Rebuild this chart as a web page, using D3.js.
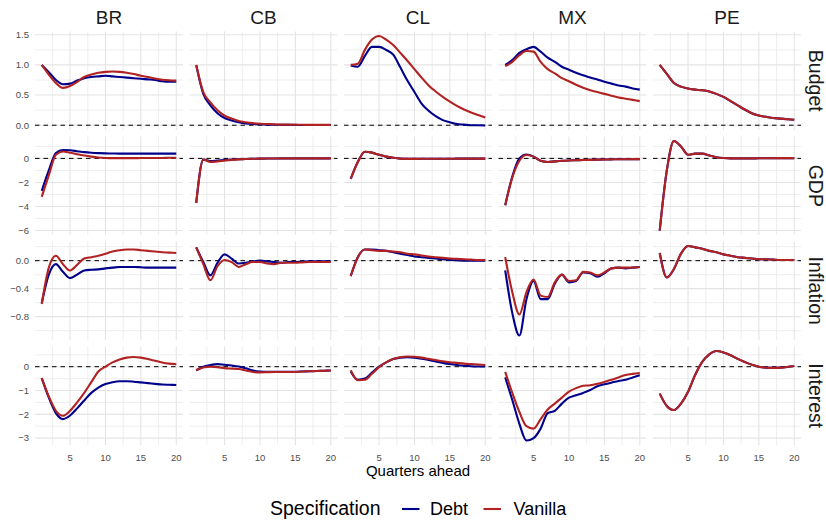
<!DOCTYPE html>
<html lang="en">
<head>
    <meta charset="UTF-8">
    <title>Impulse responses by country</title>
    <script src="https://cdn.jsdelivr.net/npm/d3@7"></script>
    <style>
        body { margin: 0; background: #fff; }
        text { font-family: "Liberation Sans", Arial, sans-serif; }
    </style>
</head>
<body>
<script>

var w = 826, h = 522;

var quarters = d3.range(1, 21);
var countries = ["BR", "CB", "CL", "MX", "PE"];
var variables = ["Budget", "GDP", "Inflation", "Interest"];
var specs = ["Debt", "Vanilla"];
var specColors = ["#00008B", "#B22222"];

var xTicks = [5, 10, 15, 20];
var yTicks = [[0, 0.5, 1, 1.5], [-6, -4, -2, 0], [-0.8, -0.4, 0], [-3, -2, -1, 0]];
var yTickLabels = [["0.0", "0.5", "1.0", "1.5"], ["\u22126", "\u22124", "\u22122", "0"],
                   ["\u22120.8", "\u22120.4", "0.0"], ["\u22123", "\u22122", "\u22121", "0"]];

// rows: BR, CB, CL, MX, PE
var budgetDebt = [
    [1.0, 0.88, 0.75, 0.68, 0.69, 0.74, 0.78, 0.80, 0.81, 0.82, 0.81, 0.80, 0.79, 0.78, 0.77, 0.76, 0.75, 0.73, 0.72, 0.72],
    [1.0, 0.52, 0.33, 0.20, 0.12, 0.08, 0.05, 0.03, 0.02, 0.015, 0.01, 0.008, 0.006, 0.005, 0.005, 0.004, 0.004, 0.003, 0.003, 0.003],
    [0.99, 0.97, 1.15, 1.30, 1.30, 1.25, 1.17, 0.96, 0.74, 0.55, 0.36, 0.24, 0.15, 0.085, 0.05, 0.02, 0.01, 0.0, 0.0, -0.005],
    [1.0, 1.08, 1.20, 1.26, 1.30, 1.22, 1.12, 1.05, 0.97, 0.92, 0.87, 0.83, 0.79, 0.76, 0.72, 0.69, 0.66, 0.64, 0.61, 0.59],
    [1.0, 0.85, 0.70, 0.64, 0.61, 0.59, 0.58, 0.56, 0.52, 0.47, 0.40, 0.33, 0.26, 0.20, 0.16, 0.14, 0.12, 0.11, 0.10, 0.09]
];
var budgetVanilla = [
    [1.0, 0.84, 0.70, 0.62, 0.65, 0.72, 0.80, 0.84, 0.87, 0.885, 0.89, 0.885, 0.87, 0.85, 0.82, 0.80, 0.775, 0.755, 0.745, 0.74],
    [1.0, 0.55, 0.38, 0.25, 0.16, 0.11, 0.07, 0.05, 0.035, 0.025, 0.02, 0.015, 0.01, 0.01, 0.008, 0.007, 0.006, 0.005, 0.005, 0.005],
    [1.0, 1.02, 1.25, 1.42, 1.48, 1.42, 1.33, 1.20, 1.07, 0.93, 0.79, 0.66, 0.56, 0.47, 0.39, 0.32, 0.26, 0.21, 0.17, 0.13],
    [0.98, 1.05, 1.16, 1.23, 1.22, 1.05, 0.93, 0.86, 0.78, 0.73, 0.67, 0.62, 0.58, 0.55, 0.52, 0.49, 0.46, 0.44, 0.42, 0.40],
    [1.0, 0.85, 0.70, 0.64, 0.61, 0.59, 0.58, 0.56, 0.52, 0.47, 0.40, 0.33, 0.26, 0.20, 0.16, 0.14, 0.12, 0.11, 0.10, 0.09]
];
var gdpDebt = [
    [-2.7, -1.0, 0.45, 0.70, 0.68, 0.60, 0.52, 0.47, 0.44, 0.42, 0.41, 0.40, 0.40, 0.40, 0.40, 0.40, 0.40, 0.40, 0.40, 0.40],
    [-3.7, -0.1, -0.22, -0.18, -0.14, -0.10, -0.07, -0.05, -0.03, -0.02, -0.01, -0.01, 0.0, 0.0, 0.0, 0.0, 0.0, 0.0, 0.0, 0.0],
    [-1.7, -0.3, 0.55, 0.48, 0.30, 0.15, 0.05, -0.02, -0.04, -0.04, -0.03, -0.03, -0.03, -0.03, -0.03, -0.02, -0.02, -0.02, -0.02, -0.02],
    [-3.9, -1.5, 0.0, 0.33, 0.15, -0.2, -0.3, -0.25, -0.2, -0.17, -0.15, -0.13, -0.12, -0.1, -0.09, -0.08, -0.07, -0.07, -0.06, -0.06],
    [-6.0, -1.0, 1.45, 1.0, 0.3, 0.40, 0.40, 0.25, 0.10, 0.03, 0.0, 0.0, 0.0, 0.0, 0.01, 0.01, 0.02, 0.02, 0.02, 0.02]
];
var gdpVanilla = [
    [-3.2, -1.4, 0.3, 0.57, 0.47, 0.35, 0.24, 0.15, 0.08, 0.04, 0.02, 0.02, 0.02, 0.02, 0.03, 0.03, 0.04, 0.04, 0.05, 0.05],
    [-3.7, -0.1, -0.3, -0.25, -0.18, -0.12, -0.08, -0.05, -0.03, -0.02, -0.01, -0.01, 0.0, 0.0, 0.0, 0.0, 0.0, 0.0, 0.0, 0.0],
    [-1.7, -0.3, 0.55, 0.48, 0.30, 0.15, 0.05, -0.02, -0.04, -0.04, -0.03, -0.03, -0.03, -0.03, -0.03, -0.02, -0.02, -0.02, -0.02, -0.02],
    [-3.9, -1.6, -0.2, 0.28, 0.15, -0.2, -0.3, -0.25, -0.2, -0.17, -0.15, -0.13, -0.12, -0.1, -0.09, -0.08, -0.07, -0.07, -0.06, -0.06],
    [-6.0, -1.0, 1.45, 1.0, 0.3, 0.40, 0.40, 0.25, 0.10, 0.03, 0.0, 0.0, 0.0, 0.0, 0.01, 0.01, 0.02, 0.02, 0.02, 0.02]
];
var inflationDebt = [
    [-0.61, -0.20, -0.05, -0.16, -0.25, -0.20, -0.14, -0.13, -0.125, -0.11, -0.10, -0.09, -0.09, -0.09, -0.095, -0.10, -0.10, -0.10, -0.10, -0.10],
    [0.19, -0.02, -0.21, -0.03, 0.09, 0.03, -0.04, -0.03, -0.01, 0.0, -0.01, -0.02, -0.03, -0.02, -0.02, -0.015, -0.01, -0.01, -0.01, -0.01],
    [-0.22, 0.05, 0.16, 0.16, 0.15, 0.14, 0.12, 0.10, 0.08, 0.06, 0.05, 0.04, 0.03, 0.02, 0.01, 0.005, 0.0, 0.0, 0.0, 0.0],
    [-0.14, -0.75, -1.07, -0.55, -0.29, -0.55, -0.55, -0.33, -0.20, -0.31, -0.29, -0.17, -0.18, -0.23, -0.18, -0.11, -0.10, -0.11, -0.10, -0.09],
    [0.11, -0.24, -0.12, 0.10, 0.21, 0.19, 0.17, 0.14, 0.12, 0.09, 0.07, 0.05, 0.04, 0.03, 0.02, 0.02, 0.015, 0.01, 0.01, 0.01]
];
var inflationVanilla = [
    [-0.62, -0.10, 0.07, -0.05, -0.14, -0.06, 0.03, 0.05, 0.07, 0.10, 0.13, 0.15, 0.16, 0.16, 0.15, 0.14, 0.13, 0.12, 0.115, 0.11],
    [0.19, -0.05, -0.28, -0.08, 0.01, -0.02, -0.09, -0.05, -0.02, -0.02, -0.04, -0.05, -0.03, -0.03, -0.03, -0.025, -0.02, -0.02, -0.02, -0.02],
    [-0.22, 0.05, 0.16, 0.15, 0.14, 0.14, 0.13, 0.12, 0.10, 0.09, 0.075, 0.06, 0.05, 0.04, 0.03, 0.025, 0.02, 0.015, 0.01, 0.01],
    [0.05, -0.45, -0.77, -0.45, -0.27, -0.50, -0.52, -0.31, -0.20, -0.29, -0.28, -0.16, -0.17, -0.21, -0.17, -0.11, -0.10, -0.10, -0.10, -0.09],
    [0.11, -0.24, -0.12, 0.10, 0.21, 0.19, 0.17, 0.14, 0.12, 0.09, 0.07, 0.05, 0.04, 0.03, 0.02, 0.02, 0.015, 0.01, 0.01, 0.01]
];
var interestDebt = [
    [-0.48, -1.3, -1.95, -2.2, -2.05, -1.75, -1.42, -1.1, -0.88, -0.73, -0.65, -0.61, -0.61, -0.63, -0.66, -0.69, -0.72, -0.75, -0.76, -0.77],
    [-0.15, 0.0, 0.07, 0.11, 0.08, 0.05, 0.01, -0.07, -0.16, -0.20, -0.21, -0.21, -0.21, -0.21, -0.21, -0.20, -0.19, -0.18, -0.17, -0.16],
    [-0.2, -0.55, -0.5, -0.25, 0.0, 0.18, 0.32, 0.38, 0.40, 0.38, 0.34, 0.28, 0.22, 0.16, 0.11, 0.07, 0.04, 0.02, 0.01, 0.01],
    [-0.45, -1.4, -2.4, -3.1, -3.0, -2.6, -1.95, -1.85, -1.55, -1.3, -1.2, -1.1, -0.98, -0.82, -0.74, -0.67, -0.60, -0.55, -0.45, -0.36],
    [-1.13, -1.65, -1.82, -1.55, -1.05, -0.35, 0.2, 0.52, 0.66, 0.6, 0.48, 0.33, 0.2, 0.08, 0.0, -0.04, -0.05, -0.04, -0.01, 0.03]
];
var interestVanilla = [
    [-0.48, -1.25, -1.85, -2.06, -1.85, -1.5, -1.1, -0.65, -0.2, 0.0, 0.18, 0.3, 0.38, 0.41, 0.38, 0.32, 0.25, 0.18, 0.13, 0.10],
    [-0.15, -0.03, 0.0, -0.02, -0.06, -0.08, -0.1, -0.16, -0.22, -0.24, -0.23, -0.22, -0.22, -0.22, -0.22, -0.20, -0.19, -0.18, -0.17, -0.16],
    [-0.15, -0.57, -0.55, -0.30, -0.02, 0.18, 0.32, 0.40, 0.43, 0.42, 0.38, 0.33, 0.28, 0.23, 0.19, 0.16, 0.13, 0.11, 0.09, 0.07],
    [-0.22, -1.1, -1.9, -2.5, -2.6, -2.2, -1.8, -1.55, -1.3, -1.05, -0.9, -0.8, -0.78, -0.72, -0.64, -0.55, -0.45, -0.35, -0.30, -0.27],
    [-1.13, -1.65, -1.82, -1.55, -1.05, -0.35, 0.2, 0.52, 0.66, 0.6, 0.48, 0.33, 0.2, 0.08, 0.0, -0.04, -0.05, -0.04, -0.01, 0.03]
];

var seriesByRow = [
    [budgetDebt, budgetVanilla],
    [gdpDebt, gdpVanilla],
    [inflationDebt, inflationVanilla],
    [interestDebt, interestVanilla]
];

// layout
var panelLeft = 35, panelW = 148, colStep = 154.5;
var panelTop = 31.5, panelH = 98.5, rowStep = 105;

var svg = d3.select("body").append("svg")
    .attr("width", w)
    .attr("height", h);

// x domain like ggplot: data range plus 5%
var xPad = (20 - 1) * 0.05;

function minorBreaks(ticks, domain) {
    var step = ticks[1] - ticks[0];
    var out = [];
    for (var v = ticks[0] - step / 2; v <= domain[1]; v += step) {
        if (v >= domain[0]) out.push(v);
    }
    return out;
}

variables.forEach(function(variable, r) {
    var allVals = [].concat.apply([], seriesByRow[r].map(function(s) { return [].concat.apply([], s); }));
    var ext = d3.extent(allVals);
    var pad = (ext[1] - ext[0]) * 0.05;
    var top = panelTop + r * rowStep;
    var y = d3.scaleLinear().domain([ext[0] - pad, ext[1] + pad]).range([top + panelH, top]);
    var yMinor = minorBreaks(yTicks[r], y.domain());

    countries.forEach(function(country, c) {
        var left = panelLeft + c * colStep;
        var x = d3.scaleLinear().domain([1 - xPad, 20 + xPad]).range([left, left + panelW]);
        var xMinor = minorBreaks(xTicks, x.domain());
        var g = svg.append("g");

        // grid
        g.selectAll("line.ymin").data(yMinor).enter().append("line")
            .attr("x1", left).attr("x2", left + panelW)
            .attr("y1", function(d) { return y(d); }).attr("y2", function(d) { return y(d); })
            .attr("stroke", "#ececec").attr("stroke-width", 0.9);
        g.selectAll("line.xmin").data(xMinor).enter().append("line")
            .attr("y1", top).attr("y2", top + panelH)
            .attr("x1", function(d) { return x(d); }).attr("x2", function(d) { return x(d); })
            .attr("stroke", "#ececec").attr("stroke-width", 0.9);
        g.selectAll("line.ymaj").data(yTicks[r]).enter().append("line")
            .attr("x1", left).attr("x2", left + panelW)
            .attr("y1", function(d) { return y(d); }).attr("y2", function(d) { return y(d); })
            .attr("stroke", "#e4e4e4").attr("stroke-width", 1.1);
        g.selectAll("line.xmaj").data(xTicks).enter().append("line")
            .attr("y1", top).attr("y2", top + panelH)
            .attr("x1", function(d) { return x(d); }).attr("x2", function(d) { return x(d); })
            .attr("stroke", "#e4e4e4").attr("stroke-width", 1.1);

        // zero reference
        g.append("line")
            .attr("x1", left).attr("x2", left + panelW)
            .attr("y1", y(0)).attr("y2", y(0))
            .attr("stroke", "#000").attr("stroke-width", 1)
            .attr("stroke-dasharray", "4.5,4");

        var line = d3.line()
            .x(function(d, i) { return x(quarters[i]); })
            .y(function(d) { return y(d); })
            .curve(d3.curveMonotoneX);

        specs.forEach(function(spec, s) {
            g.append("path")
                .datum(seriesByRow[r][s][c])
                .attr("d", line)
                .attr("fill", "none")
                .attr("stroke", specColors[s])
                .attr("stroke-width", 2.1)
                .attr("stroke-linejoin", "round");
        });

        // top strip
        if (r === 0) {
            svg.append("text")
                .attr("x", left + panelW / 2).attr("y", 24)
                .attr("text-anchor", "middle")
                .attr("font-size", "19px").attr("fill", "#1a1a1a")
                .text(country);
        }
        // x tick labels
        if (r === variables.length - 1) {
            g.selectAll("text.xt").data(xTicks).enter().append("text")
                .attr("x", function(d) { return x(d); }).attr("y", 461)
                .attr("text-anchor", "middle")
                .attr("font-size", "9.5px").attr("fill", "#4d4d4d")
                .text(function(d) { return d; });
        }
        // y tick labels
        if (c === 0) {
            g.selectAll("text.yt").data(yTicks[r]).enter().append("text")
                .attr("x", 29).attr("y", function(d) { return y(d); })
                .attr("dy", "0.35em")
                .attr("text-anchor", "end")
                .attr("font-size", "9.5px").attr("fill", "#4d4d4d")
                .text(function(d, i) { return yTickLabels[r][i]; });
        }
    });

    // right strip
    svg.append("text")
        .attr("transform", "translate(809," + (top + panelH / 2) + ") rotate(90)")
        .attr("text-anchor", "middle")
        .attr("font-size", "19.5px").attr("fill", "#1a1a1a")
        .text(variable);
});

// axis title
svg.append("text")
    .attr("x", panelLeft + (countries.length - 1) * colStep / 2 + panelW / 2)
    .attr("y", 476)
    .attr("text-anchor", "middle")
    .attr("font-size", "15px").attr("fill", "#000")
    .text("Quarters ahead");

// legend
var legend = svg.append("g");
legend.append("text")
    .attr("x", 270).attr("y", 515)
    .attr("font-size", "19.5px").attr("fill", "#000")
    .text("Specification");
var keyX = [402, 483.5];
var labelX = [430, 513.5];
specs.forEach(function(spec, s) {
    legend.append("line")
        .attr("x1", keyX[s]).attr("x2", keyX[s] + 17.5)
        .attr("y1", 509).attr("y2", 509)
        .attr("stroke", specColors[s]).attr("stroke-width", 2.1);
    legend.append("text")
        .attr("x", labelX[s]).attr("y", 515)
        .attr("font-size", "18px").attr("fill", "#000")
        .text(spec);
});

</script>
</body>
</html>
